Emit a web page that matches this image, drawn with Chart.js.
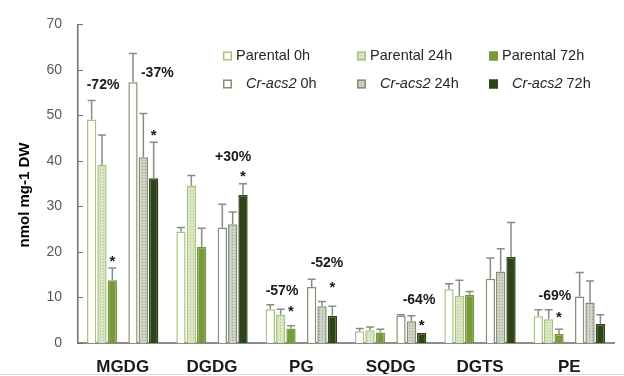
<!DOCTYPE html>
<html>
<head>
<meta charset="utf-8">
<script src="https://cdn.jsdelivr.net/npm/chart.js@4.4.1/dist/chart.umd.min.js"></script>
<style>
  body { margin: 0; background: #fff; }
  #wrap { position: relative; width: 624px; height: 376px; }
</style>
</head>
<body>
<div id="wrap"><canvas id="lipids"></canvas></div>
<script>
// lipid classes and values (nmol mg-1 DW)
const categories = ['MGDG', 'DGDG', 'PG', 'SQDG', 'DGTS', 'PE'];
const yTicks = [0, 10, 20, 30, 40, 50, 60, 70];
const seriesNames = ['Parental 0h', 'Parental 24h', 'Parental 72h', 'Cr-acs2 0h', 'Cr-acs2 24h', 'Cr-acs2 72h'];

const par0 = [49.1, 24.5, 7.4, 2.6, 11.8, 5.9];
const par0Err = [4.2, 0.9, 1.0, 0.6, 1.2, 1.4];
const par24 = [39.1, 34.6, 6.2, 2.8, 10.4, 5.2];
const par24Err = [6.6, 2.2, 1.2, 0.7, 3.4, 2.1];
const par72 = [13.8, 21.1, 3.2, 2.3, 10.6, 2.0];
const par72Err = [2.7, 4.1, 0.6, 0.7, 0.7, 1.0];
const cr0 = [57.3, 25.4, 12.3, 6.0, 14.1, 10.2];
const cr0Err = [6.3, 5.1, 1.7, 0.2, 4.6, 5.3];
const cr24 = [40.8, 26.1, 8.1, 4.8, 15.7, 8.9];
const cr24Err = [9.6, 2.7, 1.0, 1.2, 5.0, 4.7];
const cr72 = [36.2, 32.5, 6.0, 2.2, 18.9, 4.2];
const cr72Err = [7.9, 2.5, 2.1, 0.0, 7.6, 2.0];

// percent change labels: category, slot inside the group, height (data units)
const pctText = ['-72%', '-37%', '+30%', '-57%', '-52%', '-64%', '-69%'];
const pctCat = [0, 0, 1, 2, 2, 3, 5];
const pctSlot = [1.1, 6.35, 5.04, 1.13, 5.48, 5.74, 1.61];
const pctY = [56.7, 59.3, 40.8, 11.5, 17.5, 9.5, 10.2];

// significance stars: category, slot, height
const starCat = [0, 0, 1, 2, 2, 3, 5];
const starSlot = [2, 6, 6, 2, 6, 6, 2];
const starY = [18.4, 46.2, 37.1, 7.5, 12.8, 4.5, 6.2];

function dotted(base, dot) {
  const c = document.createElement('canvas');
  c.width = 3; c.height = 3;
  const g = c.getContext('2d');
  g.fillStyle = base; g.fillRect(0, 0, 3, 3);
  g.fillStyle = dot; g.fillRect(1, 1, 1, 1);
  return g.createPattern(c, 'repeat');
}

const FONT = "'Liberation Sans', Arial, sans-serif";

function series(i, data, err, fill, border) {
  return {
    label: seriesNames[i], data: data, err: err,
    backgroundColor: fill, borderColor: border, borderWidth: 1.5,
    barPercentage: 0.9, categoryPercentage: 0.81
  };
}

const datasets = [
  series(0, par0, par0Err, '#ffffff', '#a6c47a'),
  series(1, par24, par24Err, dotted('#dbe6c6', '#b3ca8c'), '#a6c47a'),
  series(2, par72, par72Err, '#789a3d', '#789a3d'),
  // empty slot between the two strains
  { label: '', data: categories.map(() => 0), backgroundColor: 'rgba(0,0,0,0)', borderWidth: 0,
    barPercentage: 0.9, categoryPercentage: 0.81, spacer: true },
  series(3, cr0, cr0Err, '#ffffff', '#848f75'),
  series(4, cr24, cr24Err, dotted('#cfd3c6', '#979e8a'), '#848f75'),
  series(5, cr72, cr72Err, '#2e4419', '#2e4419')
];

const extras = {
  id: 'extras',
  afterDatasetsDraw(chart) {
    const ctx = chart.ctx;
    const y = chart.scales.y, x = chart.scales.x;
    const area = chart.chartArea;
    ctx.save();

    // error bars (upper only)
    ctx.strokeStyle = '#8a8a8a';
    ctx.lineWidth = 1.5;
    chart.data.datasets.forEach((ds, di) => {
      if (ds.spacer) return;
      const meta = chart.getDatasetMeta(di);
      meta.data.forEach((bar, i) => {
        const e = ds.err[i];
        if (!e) return;
        const y0 = y.getPixelForValue(ds.data[i]);
        const y1 = y.getPixelForValue(ds.data[i] + e);
        ctx.beginPath();
        ctx.moveTo(bar.x, y0); ctx.lineTo(bar.x, y1);
        ctx.moveTo(bar.x - 4, y1); ctx.lineTo(bar.x + 4, y1);
        ctx.stroke();
      });
    });

    // inward ticks on the y axis
    ctx.strokeStyle = '#707070';
    ctx.lineWidth = 1;
    yTicks.forEach(v => {
      const py = Math.round(y.getPixelForValue(v)) + 0.5;
      ctx.beginPath();
      ctx.moveTo(area.left, py); ctx.lineTo(area.left + 5, py);
      ctx.stroke();
    });

    // slot position helper
    const slotW = chart.getDatasetMeta(0).data[0].width / 0.9;
    const slotX = (c, s) => x.getPixelForValue(c) + (s - 3) * slotW;

    ctx.fillStyle = '#1a1a1a';
    ctx.textAlign = 'center';
    ctx.textBaseline = 'middle';
    ctx.font = 'bold 14px ' + FONT;
    pctText.forEach((t, k) => {
      ctx.fillText(t, slotX(pctCat[k], pctSlot[k]), y.getPixelForValue(pctY[k]));
    });
    ctx.font = 'bold 15px ' + FONT;
    starCat.forEach((c, k) => {
      ctx.fillText('*', slotX(c, starSlot[k]), y.getPixelForValue(starY[k]) + 3);
    });

    // y axis title
    ctx.save();
    ctx.translate(25, 195);
    ctx.rotate(-Math.PI / 2);
    ctx.font = 'bold 15px ' + FONT;
    ctx.fillStyle = '#000';
    ctx.fillText('nmol mg-1 DW', 0, 0);
    ctx.restore();

    // legend, two rows of three
    const boxX = [223, 357, 489];
    const rowY = [56, 84];
    ctx.textAlign = 'left';
    chart.data.datasets.filter(d => !d.spacer).forEach((ds, k) => {
      const col = k % 3, row = Math.floor(k / 3);
      const bx = boxX[col], by = rowY[row];
      ctx.fillStyle = ds.backgroundColor;
      ctx.fillRect(bx, by - 4.5, 9, 9);
      ctx.strokeStyle = ds.borderColor;
      ctx.lineWidth = 1.5;
      ctx.strokeRect(bx + 0.75, by - 3.75, 7.5, 7.5);
      ctx.fillStyle = '#262626';
      const name = ds.label;
      if (name.startsWith('Cr-acs2')) {
        ctx.font = 'italic 14.5px ' + FONT;
        ctx.fillText('Cr-acs2', bx + 23, by);
        const w = ctx.measureText('Cr-acs2').width;
        ctx.font = '14.5px ' + FONT;
        ctx.fillText(name.slice(7), bx + 23 + w, by);
      } else {
        ctx.font = '14.5px ' + FONT;
        ctx.fillText(name, bx + 13, by);
      }
    });

    // faint frame line at the foot of the figure
    ctx.strokeStyle = '#d9d9d9';
    ctx.lineWidth = 1;
    ctx.beginPath();
    ctx.moveTo(0, 374.5); ctx.lineTo(chart.width, 374.5);
    ctx.stroke();
    ctx.restore();
  }
};

new Chart(document.getElementById('lipids'), {
  type: 'bar',
  data: { labels: categories, datasets: datasets },
  plugins: [extras],
  options: {
    responsive: true,
    maintainAspectRatio: false,
    animation: false,
    layout: { padding: { top: 21, right: 10, left: 0, bottom: 0 } },
    plugins: { legend: { display: false }, tooltip: { enabled: false } },
    scales: {
      x: {
        grid: { display: false, drawTicks: false },
        border: { color: '#8c8c8c', width: 2 },
        ticks: { padding: 14, color: '#1a1a1a', font: { family: FONT, size: 17, weight: 'bold' } },
        afterFit: s => { s.height = 33; }
      },
      y: {
        min: 0, max: 70,
        grid: { display: false, drawTicks: false },
        border: { color: '#707070', width: 1.5 },
        ticks: { padding: 16, color: '#595959', font: { family: FONT, size: 14 } },
        afterBuildTicks: s => { s.ticks = yTicks.map(v => ({ value: v })); },
        afterFit: s => { s.width = 78; }
      }
    }
  }
});
</script>
</body>
</html>
